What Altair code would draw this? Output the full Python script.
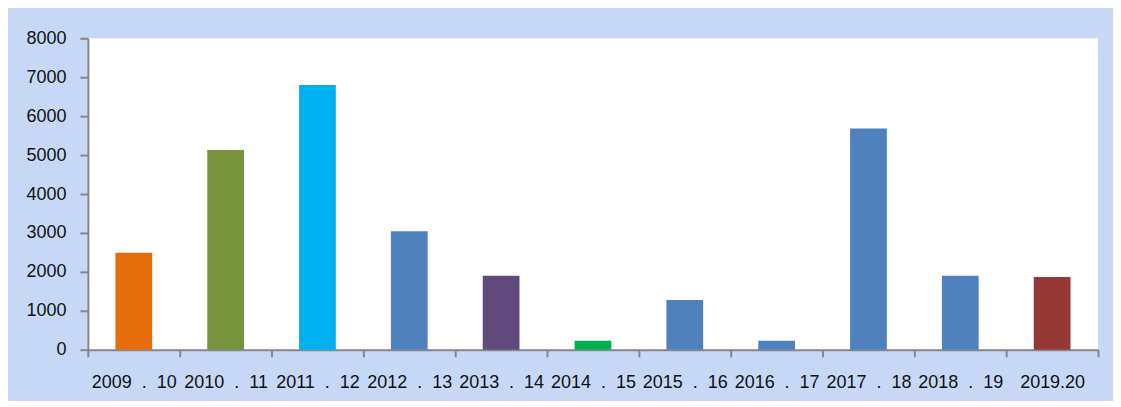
import altair as alt
import pandas as pd

categories = ["2009 . 10", "2010 . 11", "2011 . 12", "2012 . 13", "2013 . 14",
              "2014 . 15", "2015 . 16", "2016 . 17", "2017 . 18", "2018 . 19", "2019.20"]
values = [2490, 5130, 6800, 3045, 1900, 230, 1275, 230, 5685, 1900, 1870]
bar_colors = ["#E46C0A", "#77933C", "#00B0F0", "#4F81BD", "#604A7B", "#00B050",
              "#4F81BD", "#4F81BD", "#4F81BD", "#4F81BD", "#953735"]
y_ticks = [0, 1000, 2000, 3000, 4000, 5000, 6000, 7000, 8000]

df = pd.DataFrame({"category": categories, "value": values})

chart = alt.Chart(df).mark_bar(width=alt.RelativeBandSize(0.4)).encode(
    x=alt.X("category:N", sort=categories, title=None,
            scale=alt.Scale(paddingInner=0, paddingOuter=0),
            axis=alt.Axis(tickBand="extent", labelAngle=0, labelFontSize=18,
                          labelExpr="replace(datum.label, ' . ', '\u00a0\u00a0.\u00a0\u00a0')",
                          labelColor="#111111", labelFont="Liberation Sans",
                          domainColor="#868686", domainWidth=2, tickColor="#868686",
                          tickWidth=2, tickSize=7, labelPadding=17)),
    y=alt.Y("value:Q", title=None, scale=alt.Scale(domain=[0, 8000], nice=False),
            axis=alt.Axis(values=y_ticks, format="d", labelFontSize=18, labelColor="#111111",
                          labelFont="Liberation Sans", domainColor="#868686", domainWidth=2,
                          tickColor="#868686", tickWidth=2, tickSize=8, labelPadding=14,
                          grid=False)),
    color=alt.Color("category:N", scale=alt.Scale(domain=categories, range=bar_colors), legend=None),
).properties(
    width=1012, height=312,
    autosize=alt.AutoSizeParams(type="none"),
    padding={"left": 80, "top": 30, "right": 15, "bottom": 51},
    background="#c6d8f5",
).configure_view(fill="white", stroke=None)

chart.save("out.html", embed_options={"renderer": "svg", "actions": False})
